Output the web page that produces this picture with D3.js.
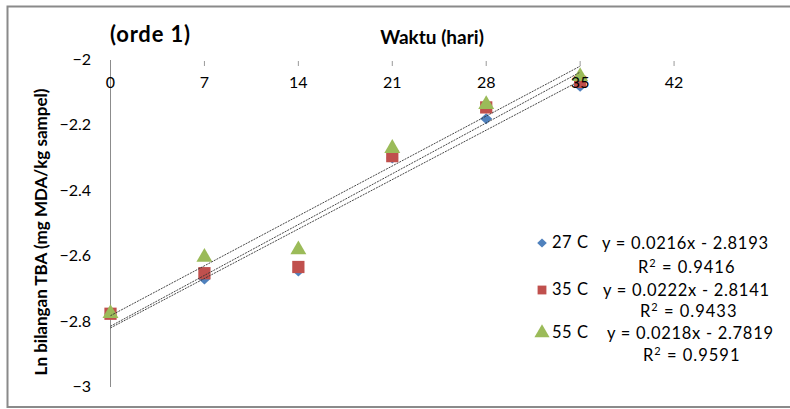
<!DOCTYPE html>
<html>
<head>
<meta charset="utf-8">
<script src="https://cdnjs.cloudflare.com/ajax/libs/d3/7.8.5/d3.min.js"></script>
<style>
  html, body { margin: 0; padding: 0; background: #fff; }
  svg { display: block; }
  text { font-family: Lato, "Open Sans", sans-serif; fill: #000; }
</style>
</head>
<body>
<svg id="chart" width="790" height="409"></svg>
<script>
// Sampling days
const days = [0, 7, 14, 21, 28, 35];
// Ln TBA values per storage temperature
const series27 = [-2.775, -2.67, -2.645, -2.30, -2.18, -2.08];
const series35 = [-2.776, -2.652, -2.633, -2.294, -2.145, -2.067];
const series55 = [-2.775, -2.603, -2.58, -2.27, -2.136, -2.05];
const seriesNames = ["27 C", "35 C", "55 C"];
// Linear fits: slope, intercept, R²
const slopes = [0.0216, 0.0222, 0.0218];
const intercepts = [-2.8193, -2.8141, -2.7819];
const rSquared = ["0.9416", "0.9433", "0.9591"];
// Axis ticks
const xTicks = [0, 7, 14, 21, 28, 35, 42];
const yTicks = [-2, -2.2, -2.4, -2.6, -2.8, -3];

const colors = ["#4f81bd", "#c0504d", "#9bbb59"];
const seriesValues = [series27, series35, series55];

const svg = d3.select("#chart");

// Outer chart frame
svg.append("rect")
  .attr("x", 7.5).attr("y", 6.5)
  .attr("width", 800).attr("height", 400.5)
  .attr("fill", "none").attr("stroke", "#8a8a8a").attr("stroke-width", 2);

const x = d3.scaleLinear().domain([0, 49]).range([110.5, 768]);
const y = d3.scaleLinear().domain([-3, -2]).range([387, 60]);

// Vertical axis line with value labels
svg.append("line")
  .attr("x1", x(0)).attr("x2", x(0))
  .attr("y1", y(-2)).attr("y2", y(-3))
  .attr("stroke", "#8c8c8c").attr("stroke-width", 1);

svg.selectAll(".ylab").data(yTicks).enter().append("text")
  .attr("class", "ylab")
  .attr("x", 91).attr("y", d => y(d) + 5)
  .attr("text-anchor", "end")
  .attr("font-size", 16)
  .text(d => d3.format("")(d));

// Horizontal axis tick marks across the top
svg.selectAll(".xtick").data(xTicks.filter(d => d !== 0)).enter().append("line")
  .attr("class", "xtick")
  .attr("x1", d => x(d)).attr("x2", d => x(d))
  .attr("y1", 61).attr("y2", 66)
  .attr("stroke", "#9a9a9a").attr("stroke-width", 1);

// Titles
svg.append("text")
  .attr("x", 110).attr("y", 42)
  .attr("font-size", 22).attr("font-weight", "bold")
  .attr("textLength", 80).attr("lengthAdjust", "spacing")
  .text("(orde 1)");

svg.append("text")
  .attr("x", 432).attr("y", 44)
  .attr("text-anchor", "middle")
  .attr("font-size", 19).attr("font-weight", "bold")
  .text("Waktu (hari)");

svg.append("text")
  .attr("transform", "translate(47,232) rotate(-90)")
  .attr("text-anchor", "middle")
  .attr("font-size", 17).attr("font-weight", "bold")
  .text("Ln bilangan TBA (mg MDA/kg sampel)");

// Marker shapes per series (scaled for plot and legend)
const diamond = s => `M0,${-5.5 * s}L${6 * s},0L0,${5.5 * s}L${-6 * s},0Z`;
const markers = [
  s => diamond(s),
  s => d3.symbol().type(d3.symbolSquare).size(150 * s * s)(),
  s => d3.symbol().type(d3.symbolTriangle).size(110 * s * s)()
];

seriesValues.forEach((vals, i) => {
  svg.append("g").selectAll("path").data(vals).enter().append("path")
    .attr("d", markers[i](1))
    .attr("transform", (d, j) => `translate(${x(days[j])},${y(d)})`)
    .attr("fill", colors[i]);
});

// Trend lines from the fitted equations
slopes.forEach((m, i) => {
  const x0 = 0, x1 = 35;
  svg.append("line")
    .attr("x1", x(x0)).attr("y1", y(intercepts[i] + m * x0))
    .attr("x2", x(x1)).attr("y2", y(intercepts[i] + m * x1))
    .attr("stroke", "#333").attr("stroke-width", 0.9)
    .attr("stroke-dasharray", "2,1");
});

// Day labels drawn above the markers
svg.selectAll(".xlab").data(xTicks).enter().append("text")
  .attr("class", "xlab")
  .attr("x", d => x(d)).attr("y", 88)
  .attr("text-anchor", "middle")
  .attr("font-size", 16)
  .text(d => d);

// Legend with equations
const legendY = [243, 290, 333];
const eqX = [602, 603, 607];
const rX = [638, 640, 643];
const rY = [267, 311, 355];
const legendScale = [0.8, 0.72, 0.95];
seriesNames.forEach((name, i) => {
  const ly = legendY[i];
  svg.append("path")
    .attr("d", markers[i](legendScale[i]))
    .attr("transform", `translate(542,${ly})`)
    .attr("fill", colors[i]);
  svg.append("text")
    .attr("x", 552).attr("y", ly + 5)
    .attr("font-size", 16.5)
    .attr("textLength", 36).attr("lengthAdjust", "spacing")
    .text(name);
  svg.append("text")
    .attr("x", eqX[i]).attr("y", ly + 6)
    .attr("font-size", 16.5)
    .attr("textLength", 166).attr("lengthAdjust", "spacing")
    .text(`y = ${slopes[i].toFixed(4)}x - ${Math.abs(intercepts[i]).toFixed(4)}`);
  const r = svg.append("text")
    .attr("x", rX[i]).attr("y", rY[i] + 6)
    .attr("font-size", 16.5).attr("letter-spacing", 1);
  r.append("tspan").text("R");
  r.append("tspan").attr("font-size", 11).attr("dy", -6).text("2");
  r.append("tspan").attr("dy", 6).text(` = ${rSquared[i]}`);
});
</script>
</body>
</html>
